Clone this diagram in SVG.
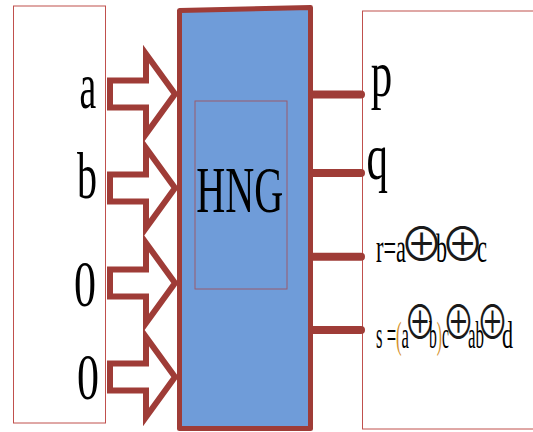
<svg xmlns="http://www.w3.org/2000/svg" width="533" height="432" viewBox="0 0 533 432">
<style>
.lbl{font-family:"Liberation Serif","Times New Roman",serif;fill:#000}
.op{font-family:"Noto Sans CJK JP","DejaVu Sans",sans-serif;font-weight:350;fill:#1a1a1a}
.frame{fill:#fff;stroke:#c0504d;stroke-width:1}
.arrow{fill:#fff;stroke:#9f3c37;stroke-width:6;stroke-linejoin:miter}
.out{stroke:#9f3c37;stroke-width:8;stroke-linecap:round;fill:none}
.par{fill:#d4902a}
</style>
<rect width="533" height="432" fill="#fff"/>
<g id="input-box">
<rect class="frame" x="13.5" y="6" width="92" height="417"/>
<text class="lbl" x="79.6" y="108" font-size="66" textLength="16.7" lengthAdjust="spacingAndGlyphs">a</text>
<text class="lbl" x="77" y="198" font-size="66" textLength="20" lengthAdjust="spacingAndGlyphs">b</text>
<text class="lbl" x="74" y="306" font-size="66" textLength="22" lengthAdjust="spacingAndGlyphs">0</text>
<text class="lbl" x="77" y="399" font-size="66" textLength="22" lengthAdjust="spacingAndGlyphs">0</text>
</g>
<g id="output-box">
<rect class="frame" x="362.5" y="11" width="180" height="418"/>
<text class="lbl" x="370.7" y="95.5" font-size="66" textLength="21.5" lengthAdjust="spacingAndGlyphs">p</text>
<text class="lbl" x="366.5" y="178.5" font-size="66" textLength="21.5" lengthAdjust="spacingAndGlyphs">q</text>
<text class="lbl" x="376" y="262" font-size="39" textLength="30" lengthAdjust="spacingAndGlyphs">r=a</text>
<text class="op" transform="translate(421.5,261) scale(0.93,1)" text-anchor="middle" font-size="47">⊕</text>
<text class="lbl" x="436" y="262" font-size="39" textLength="11" lengthAdjust="spacingAndGlyphs">b</text>
<text class="op" transform="translate(462.5,261) scale(0.93,1)" text-anchor="middle" font-size="47">⊕</text>
<text class="lbl" x="477" y="262" font-size="39" textLength="10" lengthAdjust="spacingAndGlyphs">c</text>
<text class="lbl" x="376" y="348" font-size="38" textLength="33" lengthAdjust="spacingAndGlyphs">s =<tspan class="par">(</tspan>a</text>
<text class="op" transform="translate(420,339) scale(0.68,1)" text-anchor="middle" font-size="47">⊕</text>
<text class="lbl" x="429" y="348" font-size="38" textLength="20" lengthAdjust="spacingAndGlyphs">b<tspan class="par">)</tspan>c</text>
<text class="op" transform="translate(458.5,339) scale(0.68,1)" text-anchor="middle" font-size="47">⊕</text>
<text class="lbl" x="468" y="348" font-size="38" textLength="16" lengthAdjust="spacingAndGlyphs">ab</text>
<text class="op" transform="translate(492.5,339) scale(0.68,1)" text-anchor="middle" font-size="47">⊕</text>
<text class="lbl" x="502" y="348" font-size="38" textLength="11" lengthAdjust="spacingAndGlyphs">d</text>
</g>
<g id="connectors">
<path class="arrow" d="M110,80.5 H146 V54 L175,94 L146,134 V107.5 H110 Z"/>
<path class="arrow" d="M110,174.5 H146 V148 L175,188 L146,228 V201.5 H110 Z"/>
<path class="arrow" d="M110,269.5 H146 V243 L175,283 L146,323 V296.5 H110 Z"/>
<path class="arrow" d="M110,363.5 H146 V337 L175,377 L146,417 V390.5 H110 Z"/>
<line class="out" x1="313" y1="94.5" x2="361" y2="94.5"/>
<line class="out" x1="313" y1="173" x2="361" y2="173"/>
<line class="out" x1="313" y1="256.7" x2="361" y2="256.7"/>
<line class="out" x1="313" y1="330" x2="361" y2="330"/>
</g>
<g id="hng">
<path d="M179.5,10.5 L310.5,7.5 L310.5,428.5 L179.5,428.5 Z" fill="#6f9cd9" stroke="#9f3c37" stroke-width="5" stroke-linejoin="round"/>
<rect x="195" y="101" width="92" height="188" fill="none" stroke="#9a5b6c" stroke-width="1"/>
<text class="lbl" x="196.2" y="212" font-size="66" textLength="87" lengthAdjust="spacingAndGlyphs">HNG</text>
</g>
</svg>
